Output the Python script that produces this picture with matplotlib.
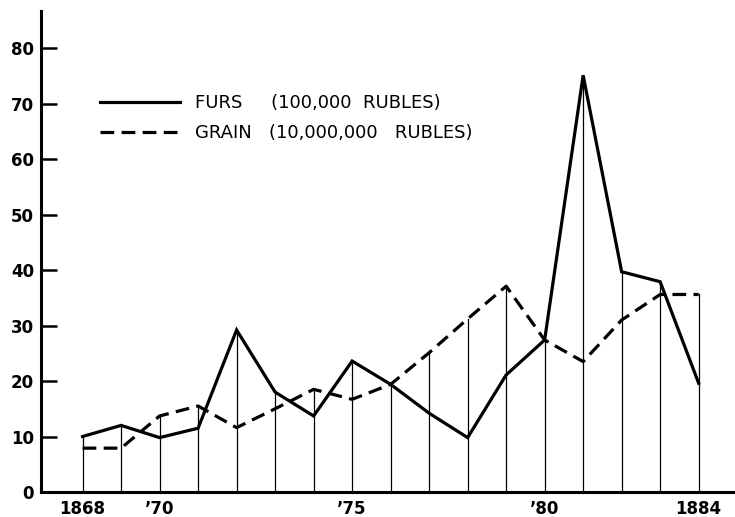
import matplotlib.pyplot as plt
from matplotlib.lines import Line2D

# Russian exports: furs vs grain, 1868-1884
years = list(range(1868, 1885))
furs = [10, 12, 9.8, 11.5, 29.2, 18, 13.7, 23.6, 19.4, 14.2, 9.8, 21.1, 27.4, 75.1, 39.7, 37.9, 19.6]
grain = [7.9, 7.9, 13.7, 15.5, 11.6, 15, 18.5, 16.7, 19.4, 25.1, 31.2, 37.1, 27.4, 23.5, 31.0, 35.6, 35.6]

tick_years = [1868, 1870, 1875, 1880, 1884]
tick_labels = ["1868", "\u201970", "\u201975", "\u201980", "1884"]
legend_labels = ["FURS     (100,000  RUBLES)", "GRAIN   (10,000,000   RUBLES)"]

plt.rcParams['font.family'] = ['DejaVu Sans']

fig = plt.figure(figsize=(7.35, 5.17), dpi=100)
ax = fig.add_axes([0.0558, 0.0484, 0.944, 0.9303])

# thin verticals up to the higher of the two series
for yr, f, g in zip(years, furs, grain):
    ax.plot([yr, yr], [0, max(f, g)], color='black', lw=0.9)

ax.plot(years, furs, color='black', lw=2.3, solid_joinstyle='miter')
ax.plot(years, grain, color='black', lw=2.3, dashes=(4.3, 2.3))

ax.set_xlim(1866.92, 1884.94)
ax.set_ylim(0, 86.7)

ax.spines['top'].set_visible(False)
ax.spines['right'].set_visible(False)
ax.spines['left'].set_linewidth(2.2)
ax.spines['bottom'].set_linewidth(2.2)

ax.set_yticks(range(0, 90, 10))
ax.tick_params(axis='y', direction='in', length=11.5, width=1.8, pad=5,
               labelsize=12)
ax.set_xticks(tick_years)
ax.set_xticklabels(tick_labels)
ax.tick_params(axis='x', length=0, pad=6, labelsize=12)
for lab in ax.get_xticklabels() + ax.get_yticklabels():
    lab.set_fontweight('bold')

handles = [Line2D([0], [0], color='black', lw=2.3),
           Line2D([0], [0], color='black', lw=2.3, dashes=(4.3, 2.3))]
ax.legend(handles, legend_labels, loc='upper left', bbox_to_anchor=(0.085, 0.827),
          frameon=False, borderpad=0, borderaxespad=0,
          handlelength=4.43, handletextpad=0.83, labelspacing=0.66,
          prop={'size': 13})

fig.savefig('out.png', dpi=100)
